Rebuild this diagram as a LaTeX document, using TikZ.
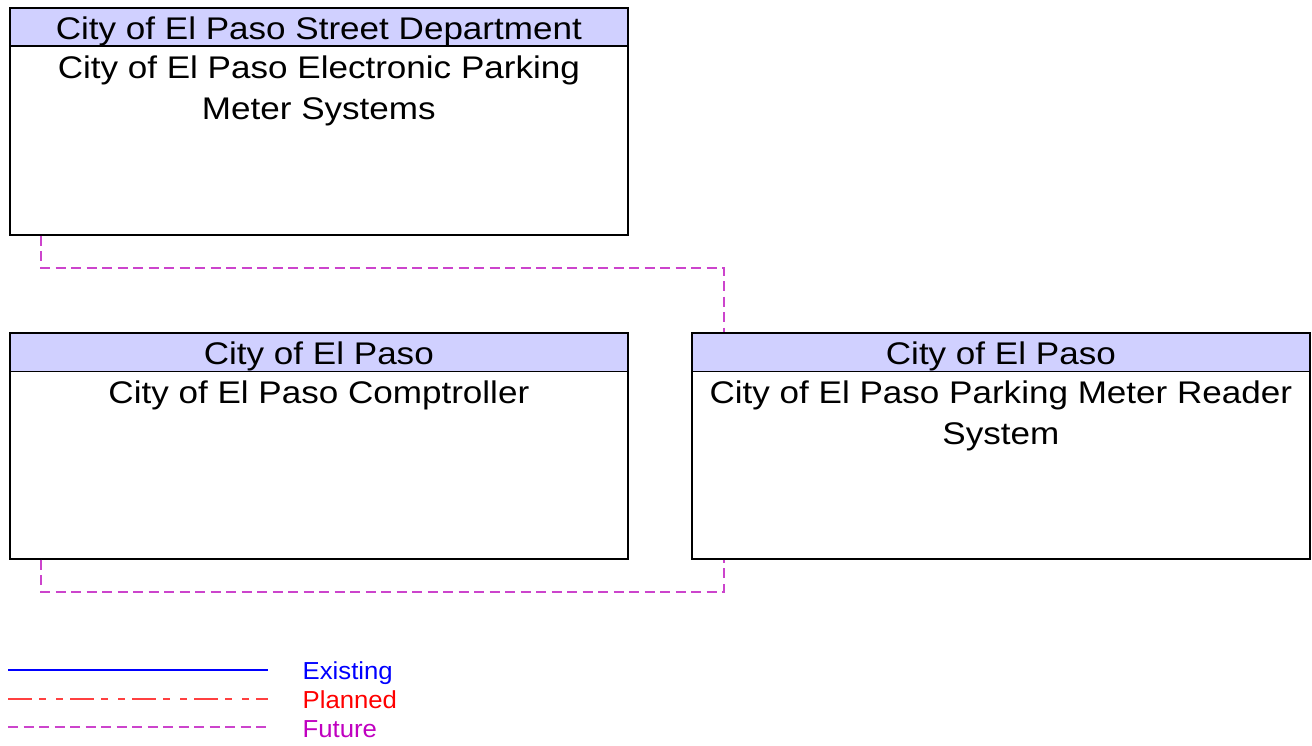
\documentclass[tikz,border=0pt]{standalone}
\usepackage{fontspec}
\usepackage{graphicx}
\setmainfont{Liberation Sans}
\newcommand{\bxt}[1]{\scalebox{1.12}[1]{#1}}
\newcommand{\bxlines}[1]{\scalebox{1.12}[1]{\begin{tabular}[t]{@{}c@{}}#1\end{tabular}}}
\newcommand{\lgt}[1]{\scalebox{1.045}[1]{#1}}
\begin{document}
\begin{tikzpicture}[x=1pt,y=-1pt,
  box/.style={draw=black,line width=1.7pt,minimum width=618pt,minimum height=#1,inner sep=0pt,anchor=north west},
  hdr/.style={draw=black,line width=1.7pt,fill=hdrblue,minimum width=618pt,minimum height=38.5pt,inner sep=0pt,anchor=north west,text height=24.1pt,text depth=0pt,font=\fontsize{31.3}{38}\selectfont},
  body/.style={anchor=base,inner sep=0pt,font=\fontsize{31.3}{40.5}\selectfont},
  future/.style={draw=futline,line width=1.6pt,dash pattern=on 10pt off 5.5pt},
  planned/.style={draw=planline,line width=1.5pt,dash pattern=on 24pt off 7pt on 7pt off 10pt on 7pt off 7pt},
  existing/.style={draw=blue,line width=1.6pt},
  legtext/.style={anchor=base west,inner sep=0pt,font=\fontsize{24.6}{28}\selectfont}]
\definecolor{hdrblue}{RGB}{208,208,255}
\definecolor{futline}{RGB}{204,68,204}
\definecolor{futtext}{RGB}{192,0,192}
\definecolor{planline}{RGB}{255,64,64}
\useasboundingbox (0,0) rectangle (1312,746);
% box 1
\node[box=227pt] (b1) at (9,7) {};
\node[hdr] (h1) at (9,7) {\bxt{City of El Paso Street Department}};
\node[body] (t1) at ([yshift=-31.7pt]h1.south) {\bxlines{City of El Paso Electronic Parking\\Meter Systems}};
% box 2
\node[box=226pt] (b2) at (9,332) {};
\node[hdr] (h2) at (9,332) {\bxt{City of El Paso}};
\node[body] (t2) at ([yshift=-31.7pt]h2.south) {\bxlines{City of El Paso Comptroller}};
% box 3
\node[box=226pt] (b3) at (691,332) {};
\node[hdr] (h3) at (691,332) {\bxt{City of El Paso}};
\node[body] (t3) at ([yshift=-31.7pt]h3.south) {\bxlines{City of El Paso Parking Meter Reader\\System}};
% connectors
\draw[future] ([xshift=32pt]b1.south west) -- ++(0,32) -| ([xshift=33pt]b3.north west);
\draw[future] ([xshift=32pt]b2.south west) -- ++(0,32) -| ([xshift=33pt]b3.south west);
% legend
\coordinate (l1a) at (8,670); \coordinate (l1b) at (268,670);
\coordinate (l2a) at (8,699); \coordinate (l2b) at (268,699);
\coordinate (l3a) at (8,727); \coordinate (l3b) at (268,727);
\draw[existing] (l1a) -- (l1b);
\draw[planned] (l2a) -- (l2b);
\draw[future] (l3a) -- (l3b);
\node[legtext,text=blue] (e) at (302.5,679.3) {\lgt{Existing}};
\node[legtext,text=red] (p) at (302.5,708.3) {\lgt{Planned}};
\node[legtext,text=futtext] (f) at (302.5,737.3) {\lgt{Future}};
\end{tikzpicture}
\end{document}
